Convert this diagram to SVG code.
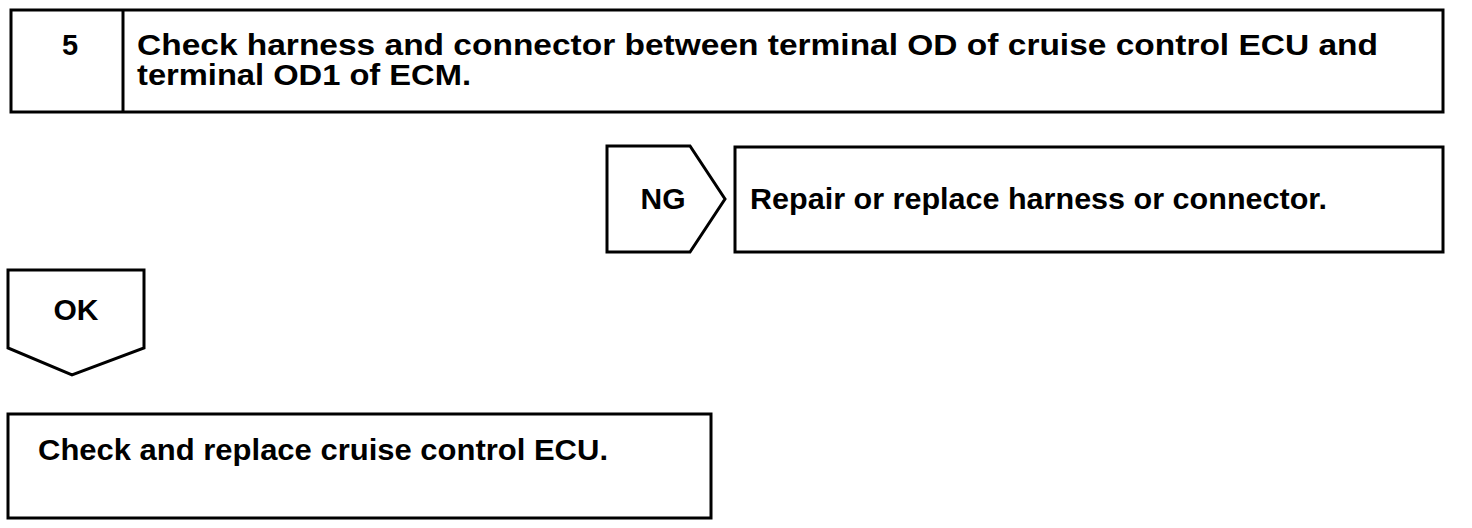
<svg xmlns="http://www.w3.org/2000/svg" width="1472" height="528" viewBox="0 0 1472 528">
<style>
.b{fill:#fff;stroke:#000;stroke-width:3}
.t{font-family:"Liberation Sans",Arial,sans-serif;font-weight:bold;font-size:29px;fill:#000}
</style>
<rect width="1472" height="528" fill="#fff"/>
<g id="step5">
<rect class="b" x="11" y="10" width="1432" height="102"/>
<line x1="123" y1="10" x2="123" y2="112" stroke="#000" stroke-width="3"/>
<text class="t" x="70" y="55" text-anchor="middle">5</text>
<text class="t" x="137" y="55" textLength="1241" lengthAdjust="spacingAndGlyphs">Check harness and connector between terminal OD of cruise control ECU and</text>
<text class="t" x="137" y="85" textLength="334" lengthAdjust="spacingAndGlyphs">terminal OD1 of ECM.</text>
</g>
<g id="connectors">
<g id="ng">
<path class="b" d="M607,146 L690,146 L725,199 L690,252 L607,252 Z"/>
<text class="t" x="663" y="209" text-anchor="middle" textLength="45" lengthAdjust="spacingAndGlyphs">NG</text>
</g>
<g id="ok">
<path class="b" d="M8,270 L144,270 L144,348 L72,375 L8,348 Z"/>
<text class="t" x="76" y="320" text-anchor="middle" textLength="45" lengthAdjust="spacingAndGlyphs">OK</text>
</g>
</g>
<g id="repair">
<rect class="b" x="735" y="147" width="708" height="105"/>
<text class="t" x="750" y="209" textLength="577" lengthAdjust="spacingAndGlyphs">Repair or replace harness or connector.</text>
</g>
<g id="replace-ecu">
<rect class="b" x="8" y="414" width="703" height="104"/>
<text class="t" x="38" y="460" textLength="570" lengthAdjust="spacingAndGlyphs">Check and replace cruise control ECU.</text>
</g>
</svg>
